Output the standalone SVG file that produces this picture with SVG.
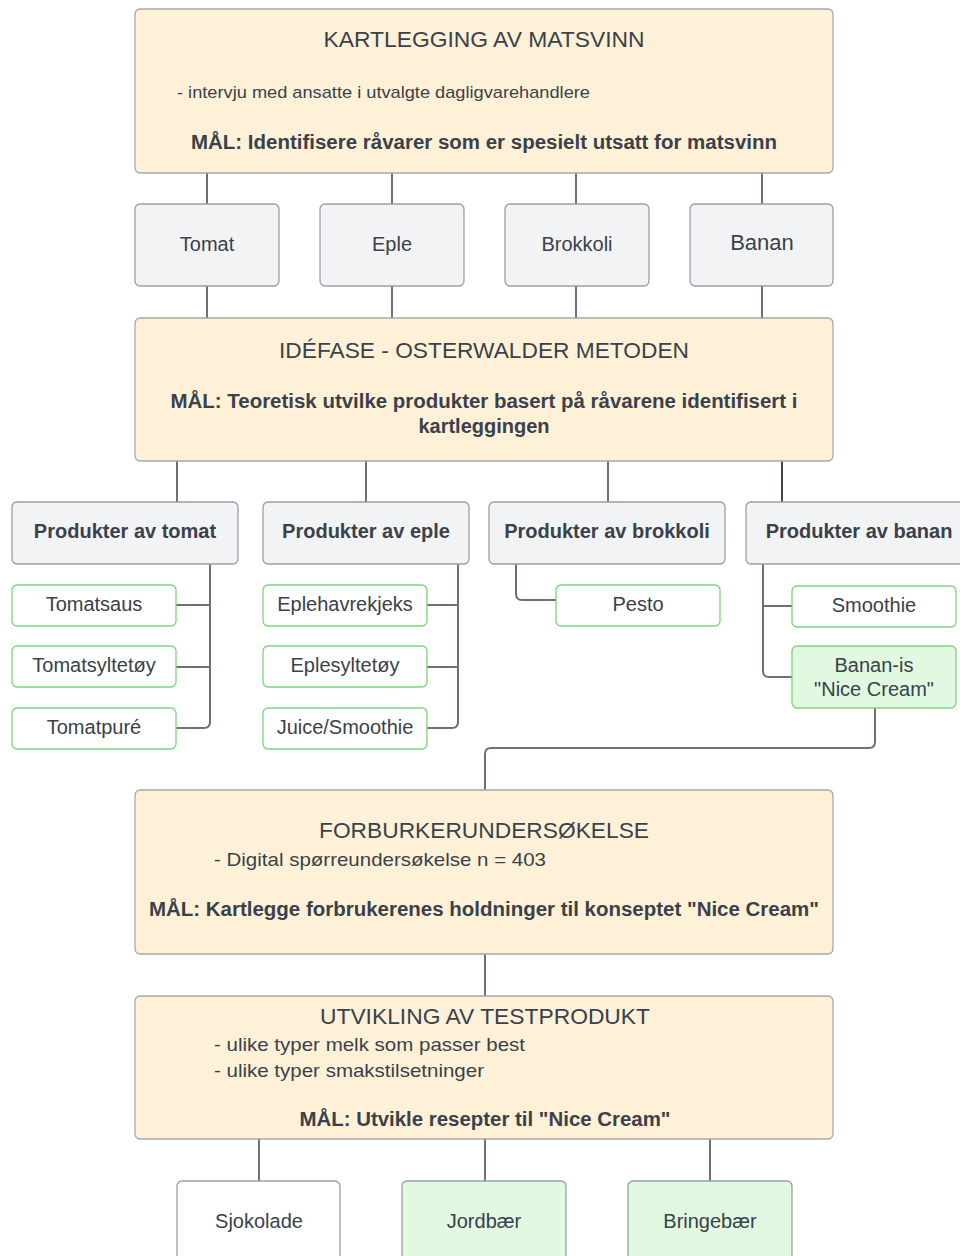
<svg xmlns="http://www.w3.org/2000/svg" width="960" height="1256" viewBox="0 0 960 1256">
<style>
text{font-family:"Liberation Sans",Arial,sans-serif;fill:#3a414a}
.main{fill:#fff1d8;stroke:#a8a8a8;stroke-width:1.3}
.gray{fill:#f2f3f5;stroke:#9a9ea6;stroke-width:1.3}
.leaf{fill:#ffffff;stroke:#7bd67b;stroke-width:1.3}
.leafg{fill:#e1f8e1;stroke:#7bd67b;stroke-width:1.3}
.botw{fill:#ffffff;stroke:#9a9ea6;stroke-width:1.3}
.botg{fill:#e1f8e1;stroke:#9a9ea6;stroke-width:1.3}
.t{font-size:22px;text-anchor:middle}
.s{font-size:17px}
.s19{font-size:19px}
.b{font-size:20px;font-weight:bold;text-anchor:middle}
.n{font-size:20px;text-anchor:middle}
.m{font-size:20px;text-anchor:middle}
.conn path{fill:none;stroke:#6b717c;stroke-width:2}
</style>
<g class="conn">
<path d="M207 173V204M392 173V204M576 173V204M762 173V204"/>
<path d="M207 286V318M392 286V318M576 286V318M762 286V318"/>
<path d="M177 461V502M366 461V502M608 461V502"/>
<path d="M782 461V502" style="stroke:#40454d"/>
<path d="M210 564V722Q210 728 204 728H176M176 605H210M176 667H210"/>
<path d="M458 564V722Q458 728 452 728H427M427 605H458M427 667H458"/>
<path d="M516 564V594Q516 600 522 600H556"/>
<path d="M763 564V671Q763 677 769 677H792M763 606H792"/>
<path d="M875 708V742Q875 748 869 748H491Q485 748 485 754V790"/>
<path d="M485 954V996"/>
<path d="M259 1139V1181M485 1139V1181M710 1139V1181"/>
</g>
<g id="kartlegging">
<rect class="main" x="135" y="9" width="698" height="164" rx="5"/>
<text class="t" x="484" y="47" textLength="321" lengthAdjust="spacingAndGlyphs">KARTLEGGING AV MATSVINN</text>
<text class="s" x="177" y="98" textLength="413" lengthAdjust="spacingAndGlyphs">- intervju med ansatte i utvalgte dagligvarehandlere</text>
<text class="b" x="484" y="149" textLength="586" lengthAdjust="spacingAndGlyphs">MÅL: Identifisere råvarer som er spesielt utsatt for matsvinn</text>
</g>
<g id="tomat"><rect class="gray" x="135" y="204" width="144" height="82" rx="5"/><text class="m" x="207" y="251">Tomat</text></g>
<g id="eple"><rect class="gray" x="320" y="204" width="144" height="82" rx="5"/><text class="m" x="392" y="251">Eple</text></g>
<g id="brokkoli"><rect class="gray" x="505" y="204" width="144" height="82" rx="5"/><text class="m" x="577" y="251">Brokkoli</text></g>
<g id="banan"><rect class="gray" x="690" y="204" width="143" height="82" rx="5"/><text class="t" x="762" y="250">Banan</text></g>
<g id="idefase">
<rect class="main" x="135" y="318" width="698" height="143" rx="5"/>
<text class="t" x="484" y="358" textLength="410" lengthAdjust="spacingAndGlyphs">IDÉFASE - OSTERWALDER METODEN</text>
<text class="b" x="484" y="408" textLength="627" lengthAdjust="spacingAndGlyphs">MÅL: Teoretisk utvilke produkter basert på råvarene identifisert i</text>
<text class="b" x="484" y="433">kartleggingen</text>
</g>
<g id="p-tomat"><rect class="gray" x="12" y="502" width="226" height="62" rx="5"/><text class="b" x="125" y="538">Produkter av tomat</text></g>
<g id="p-eple"><rect class="gray" x="263" y="502" width="206" height="62" rx="5"/><text class="b" x="366" y="538">Produkter av eple</text></g>
<g id="p-brokkoli"><rect class="gray" x="489" y="502" width="236" height="62" rx="5"/><text class="b" x="607" y="538">Produkter av brokkoli</text></g>
<g id="p-banan"><rect class="gray" x="746" y="502" width="224" height="62" rx="5"/><text class="b" x="859" y="538">Produkter av banan</text></g>
<g id="tomatsaus"><rect class="leaf" x="12" y="585" width="164" height="41" rx="5"/><text class="n" x="94" y="611">Tomatsaus</text></g>
<g id="tomatsyltetoy"><rect class="leaf" x="12" y="646" width="164" height="41" rx="5"/><text class="n" x="94" y="672">Tomatsyltetøy</text></g>
<g id="tomatpure"><rect class="leaf" x="12" y="708" width="164" height="41" rx="5"/><text class="n" x="94" y="734">Tomatpuré</text></g>
<g id="eplehavrekjeks"><rect class="leaf" x="263" y="585" width="164" height="41" rx="5"/><text class="n" x="345" y="611">Eplehavrekjeks</text></g>
<g id="eplesyltetoy"><rect class="leaf" x="263" y="646" width="164" height="41" rx="5"/><text class="n" x="345" y="672">Eplesyltetøy</text></g>
<g id="juice"><rect class="leaf" x="263" y="708" width="164" height="41" rx="5"/><text class="n" x="345" y="734">Juice/Smoothie</text></g>
<g id="pesto"><rect class="leaf" x="556" y="585" width="164" height="41" rx="5"/><text class="n" x="638" y="611">Pesto</text></g>
<g id="smoothie"><rect class="leaf" x="792" y="586" width="164" height="41" rx="5"/><text class="n" x="874" y="612">Smoothie</text></g>
<g id="bananis"><rect class="leafg" x="792" y="646" width="164" height="62" rx="5"/><text class="n" x="874" y="672">Banan-is</text><text class="n" x="874" y="696">"Nice Cream"</text></g>
<g id="forbruker">
<rect class="main" x="135" y="790" width="698" height="164" rx="5"/>
<text class="t" x="484" y="838" textLength="330" lengthAdjust="spacingAndGlyphs">FORBURKERUNDERSØKELSE</text>
<text class="s19" x="214" y="866" textLength="332" lengthAdjust="spacingAndGlyphs">- Digital spørreundersøkelse n = 403</text>
<text class="b" x="484" y="916" textLength="670" lengthAdjust="spacingAndGlyphs">MÅL: Kartlegge forbrukerenes holdninger til konseptet "Nice Cream"</text>
</g>
<g id="utvikling">
<rect class="main" x="135" y="996" width="698" height="143" rx="5"/>
<text class="t" x="485" y="1024" textLength="330" lengthAdjust="spacingAndGlyphs">UTVIKLING AV TESTPRODUKT</text>
<text class="s19" x="214" y="1051" textLength="311" lengthAdjust="spacingAndGlyphs">- ulike typer melk som passer best</text>
<text class="s19" x="214" y="1077" textLength="270" lengthAdjust="spacingAndGlyphs">- ulike typer smakstilsetninger</text>
<text class="b" x="485" y="1126" textLength="371" lengthAdjust="spacingAndGlyphs">MÅL: Utvikle resepter til "Nice Cream"</text>
</g>
<g id="sjokolade"><rect class="botw" x="177" y="1181" width="163" height="90" rx="5"/><text class="m" x="259" y="1228">Sjokolade</text></g>
<g id="jordbaer"><rect class="botg" x="402" y="1181" width="164" height="90" rx="5"/><text class="m" x="484" y="1228">Jordbær</text></g>
<g id="bringebaer"><rect class="botg" x="628" y="1181" width="164" height="90" rx="5"/><text class="m" x="710" y="1228">Bringebær</text></g>
</svg>
